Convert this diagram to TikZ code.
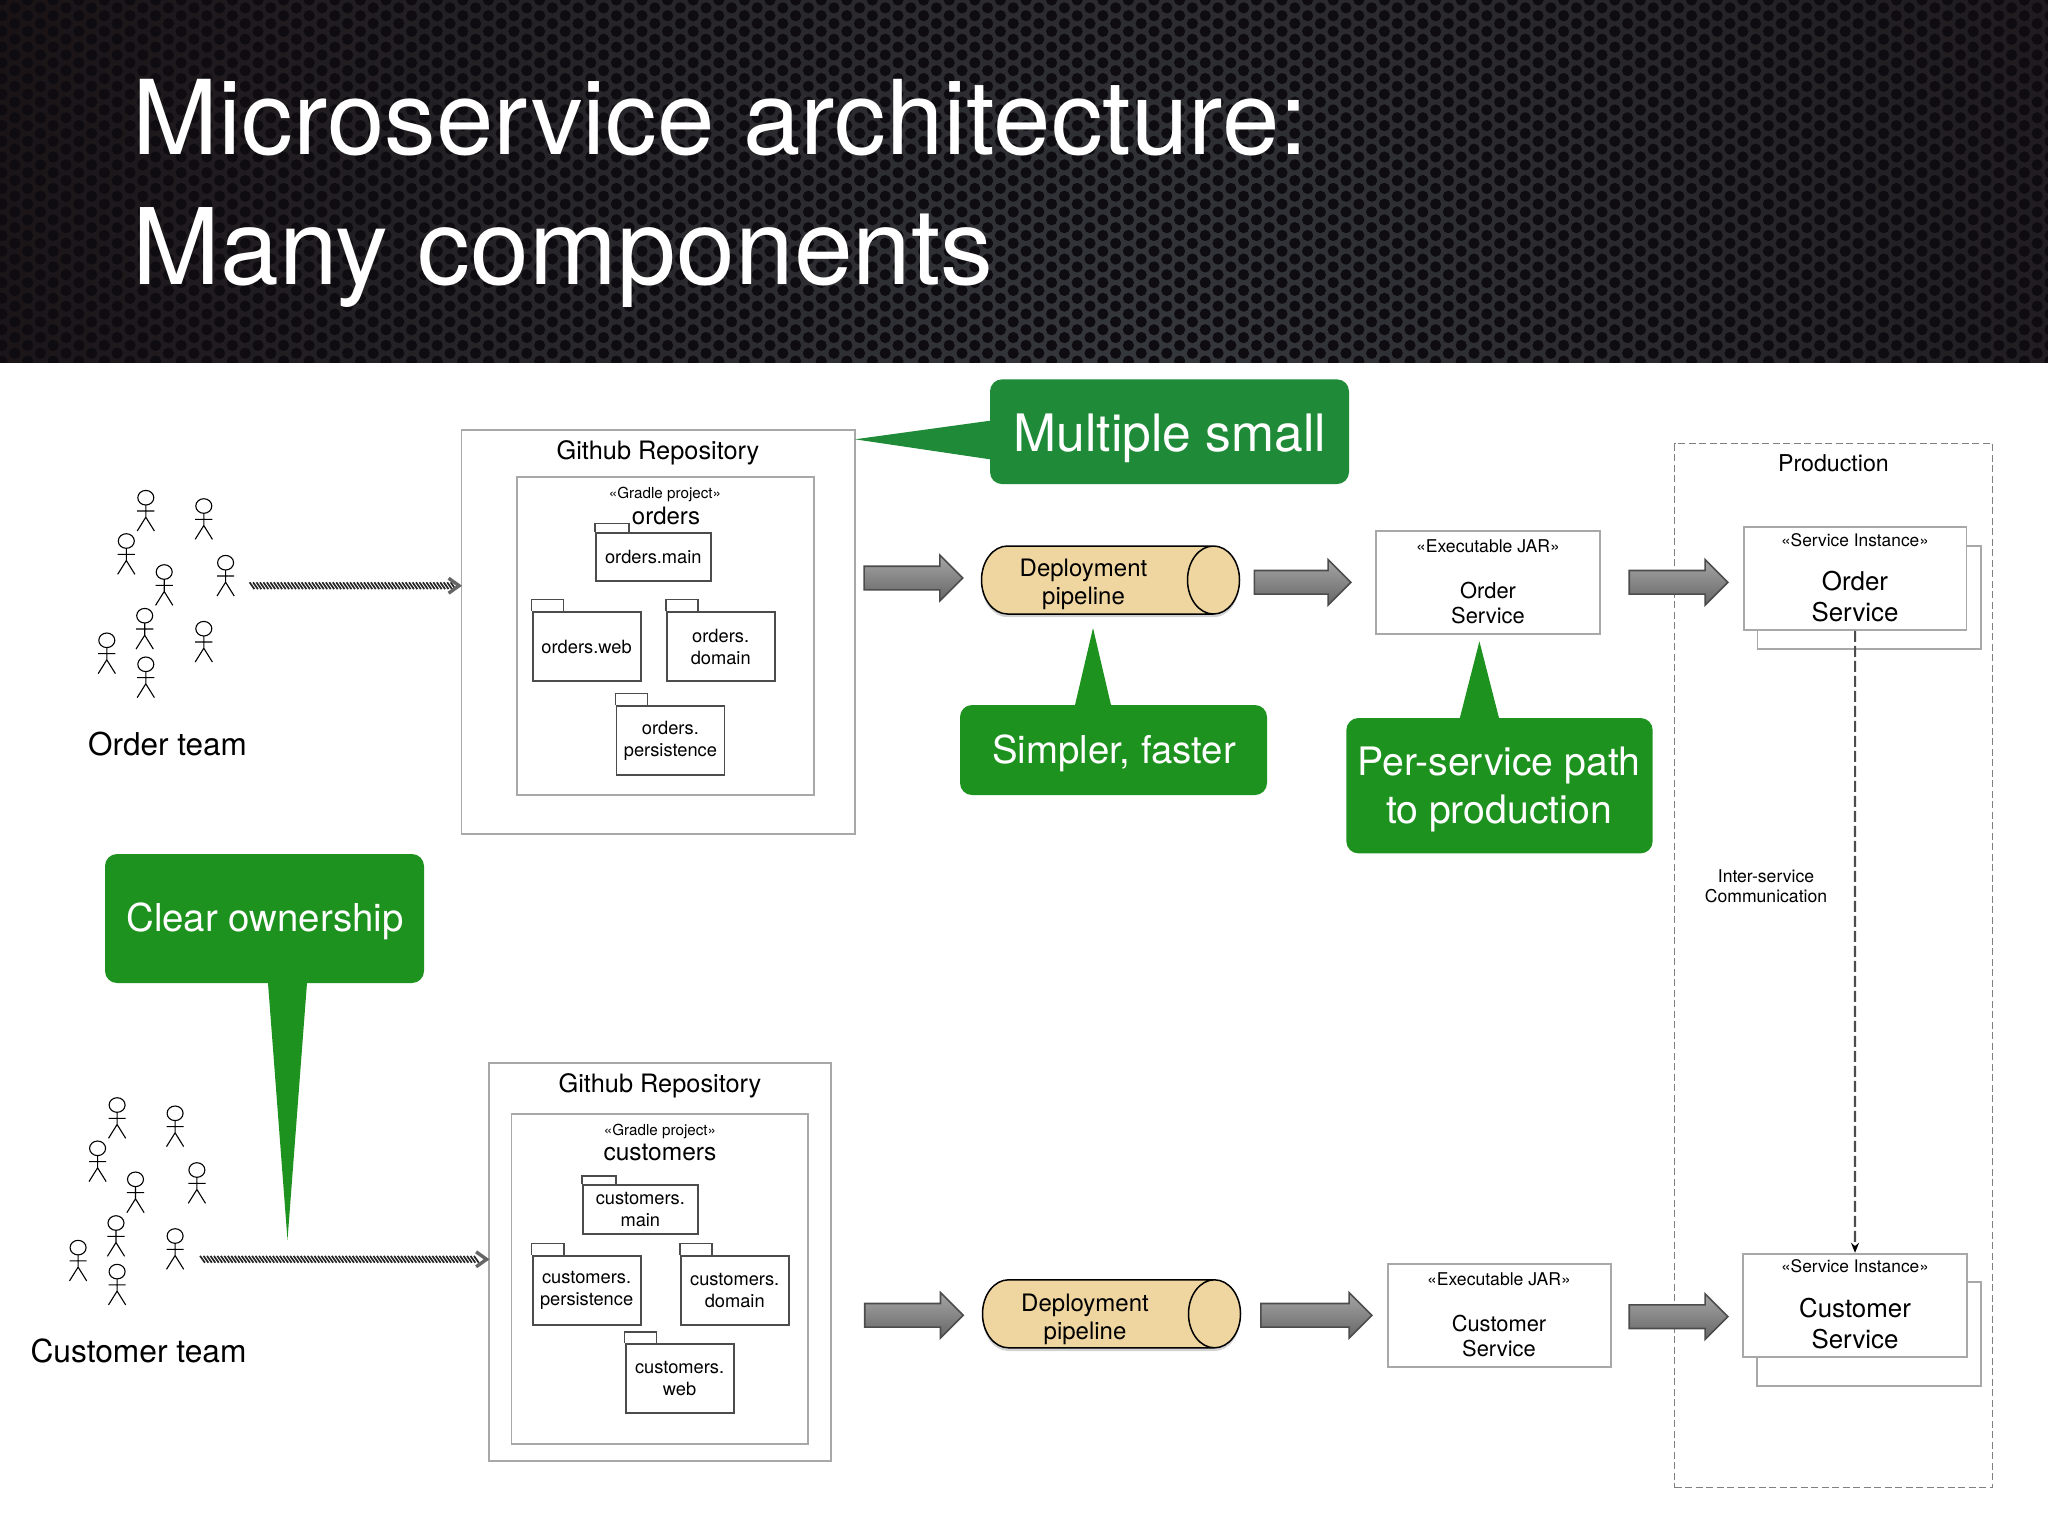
\documentclass[tikz,border=0pt]{standalone}
\usepackage{fontspec}
\setmainfont{TeX Gyre Heros}
\usetikzlibrary{arrows.meta,shapes.geometric,shapes.arrows,shadows,decorations.markings}

\def\pxs{0.375pt}
\definecolor{boxgray}{RGB}{168,168,168}
\definecolor{calloutgreen}{RGB}{30,146,31}
\definecolor{noisygreen}{RGB}{31,139,56}
\definecolor{pipetan}{RGB}{239,213,159}
\definecolor{bandouter}{RGB}{18,10,12}
\definecolor{bandinner}{RGB}{54,57,62}
\definecolor{bandhole}{RGB}{14,12,17}

\tikzset{
  lbl/.style={inner sep=0pt,anchor=base,font=\fontsize{#1}{#1}\selectfont},
  mlbl/.style 2 args={inner sep=0pt,align=center,font=\fontsize{#1}{#2}\selectfont},
  graybox/.style={draw=boxgray,line width=1.8*\pxs,fill=white,inner sep=0pt},
  pkgbox/.style={draw=black!70,line width=1.8*\pxs,fill=white,inner sep=0pt,align=center,
    minimum width=108*\pxs,minimum height=69*\pxs,font=\fontsize{6.85}{8.25}\selectfont},
  pkgtab/.style={draw=black!70,line width=1.4*\pxs},
  blockarrow/.style={single arrow,anchor=tip,draw=black!70,line width=1.6*\pxs,inner xsep=0pt,inner ysep=11*\pxs,
    top color=black!35,bottom color=black!60,single arrow head extend=11*\pxs,
    single arrow tip angle=90,minimum width=44*\pxs},
  hatcharrow/.style={postaction={decorate,decoration={markings,
    mark=between positions 0 and 0.97 step 1.3pt with {\draw[black!85,line width=1.7*\pxs] (-2.4,-3.4) -- (2.4,3.4);},
    mark=at position 1 with {\draw[black!60,line width=3.4*\pxs] (-12,-7.5) -- (-1.5,0) -- (-12,7.5);}}}},
  pipe/.style={cylinder,anchor=shape center,shape border rotate=0,aspect=1,draw=black,line width=1.5*\pxs,fill=pipetan,
    inner sep=0pt,minimum height=258*\pxs,minimum width=68*\pxs,execute at begin node={\rule{0pt}{19.5pt}},
    drop shadow={opacity=.35,shadow xshift=0pt,shadow yshift=-1.2pt}},
  callout/.style={fill=calloutgreen,rounded corners=12*\pxs,inner sep=0pt},
  stickman/.pic={
    \draw[line width=1.1*\pxs] (0,0) ellipse [x radius=8,y radius=7.3];
    \draw[line width=1.1*\pxs] (0,7.3) -- (0,19.5) (-8.6,13.3) -- (8.6,13.3) (-8.6,33.3) -- (0,19.5) -- (8.6,33.3);
  }
}
\newcommand{\pkgflap}[3]{\draw[pkgtab] (#1.north west) -- ++(0,-#3) -- ++(#2,0) -- ++(0,#3);}

\begin{document}
\begin{tikzpicture}[x=0.375pt,y=-0.375pt]
  \useasboundingbox (0,0) rectangle (2048,1536);

  % header band
  \begin{scope}
    \clip (0,0) rectangle (2048,362);
    \shade[inner color=bandinner,outer color=bandouter] (1150,420) circle [radius=1500];
    \foreach \col in {0,...,160}{
      \pgfmathsetmacro{\colx}{\col*12.8+2}
      \pgfmathsetmacro{\coly}{mod(\col,2)*7.85}
      \foreach \row in {0,...,24}
        \fill[bandhole] ({\colx},{\row*15.7+\coly}) circle [radius=5.6];
    }
  \end{scope}
  \node[lbl=38.7,white] (titleone) at (720.5,154) {Microservice architecture:};
  \node[lbl=39.6,white,anchor=base west] (titletwo) at (132,284) {Many components};

  % order team
  \foreach \hx/\hy in {145.8/497.7,203.8/506,126.3/541,164.2/572,225.6/562.7,144.7/615.7,203.8/628.7,106.8/640.3,145.8/664.3}
    \pic at (\hx,\hy) {stickman};
  \node[lbl=11.8] (orderteam) at (167.5,755) {Order team};
  \coordinate (orderout) at (252,585.7);

  % customer team
  \begin{scope}[shift={(-28.7,607.3)}]
    \foreach \hx/\hy in {145.8/497.7,203.8/506,126.3/541,164.2/572,225.6/562.7,144.7/615.7,203.8/628.7,106.8/640.3,145.8/664.3}
      \pic at (\hx,\hy) {stickman};
  \end{scope}
  \node[lbl=11.9] (customerteam) at (138.5,1362) {Customer team};
  \coordinate (customerout) at (202.5,1259.3);

  % order repository
  \node[graybox,minimum width=393.3*\pxs,minimum height=403.7*\pxs] (orderrepo) at (658.15,631.85) {};
  \node[lbl=9.5] (orderrepotitle) at (658,459) {Github Repository};
  \node[graybox,minimum width=296.8*\pxs,minimum height=317.4*\pxs] (orderproj) at (665.6,636) {};
  \node[lbl=5.7] (ordergradle) at (665,498) {«Gradle project»};
  \node[lbl=9] (orderprojname) at (666,524) {orders};
  \node[pkgbox,minimum width=114.8*\pxs,minimum height=48.6*\pxs] (ordersmain) at (653.3,557) {orders.main};
  \pkgflap{ordersmain}{33.8}{8.4}
  \node[pkgbox] (ordersweb) at (586.6,646.5) {orders.web};
  \pkgflap{ordersweb}{31.6}{11.7}
  \node[pkgbox] (ordersdomain) at (720.7,646.5) {orders.\\domain};
  \pkgflap{ordersdomain}{32.1}{11.7}
  \node[pkgbox] (orderspersist) at (670.4,740.8) {orders.\\persistence};
  \pkgflap{orderspersist}{32.2}{11.7}

  % customer repository
  \node[graybox,minimum width=341.7*\pxs,minimum height=398.6*\pxs] (customerrepo) at (659.85,1262) {};
  \node[lbl=9.5] (customerrepotitle) at (660,1092) {Github Repository};
  \node[graybox,minimum width=296.8*\pxs,minimum height=330*\pxs] (customerproj) at (659.9,1279) {};
  \node[lbl=5.7] (customergradle) at (660,1135) {«Gradle project»};
  \node[lbl=9.2] (customerprojname) at (660,1160.7) {customers};
  \node[pkgbox,minimum width=115.3*\pxs,minimum height=49*\pxs] (customersmain) at (640.35,1209.5) {customers.\\main};
  \pkgflap{customersmain}{34.3}{8.3}
  \node[pkgbox] (customerspersist) at (586.6,1290.6) {customers.\\persistence};
  \pkgflap{customerspersist}{32.3}{11.7}
  \node[pkgbox] (customersdomain) at (734.7,1290.6) {customers.\\domain};
  \pkgflap{customersdomain}{32.2}{11.7}
  \node[pkgbox] (customersweb) at (679.6,1378.8) {customers.\\web};
  \pkgflap{customersweb}{31.6}{11.6}

  % team to repository
  \path[hatcharrow] (orderout) -- (orderrepo.west |- orderout);
  \path[hatcharrow] (customerout) -- (customerrepo.west |- customerout);

  % production
  \node[draw=black!50,line width=1.4*\pxs,dash pattern=on 7*\pxs off 3.5*\pxs,inner sep=0pt,
    minimum width=318.2*\pxs,minimum height=1043.8*\pxs] (production) at (1833.6,965.6) {};
  \node[lbl=8.7] (productiontitle) at (1833.4,471) {Production};

  % order pipeline row
  \node[blockarrow,minimum height=98.5*\pxs] (orderarrowa) at (963.8,578) {};
  \node[pipe] (orderpipe) at (1110.5,580) {};
  \node[mlbl={9}{10.5}] (orderpipetext) at (1083.5,584.7) {Deployment\\pipeline};
  \node[blockarrow,minimum height=96.5*\pxs] (orderarrowb) at (1352,582.3) {};
  \node[graybox,minimum width=223.3*\pxs,minimum height=103.3*\pxs] (orderjar) at (1488,582.3) {};
  \node[lbl=6.6] (orderjarstereo) at (1488,552.7) {«Executable JAR»};
  \node[mlbl={8.2}{9.4}] (orderjarname) at (1488,602.6) {Order\\Service};
  \node[blockarrow,minimum height=98.6*\pxs] (orderarrowc) at (1729,582.3) {};
  \node[graybox,minimum width=223.3*\pxs,minimum height=103*\pxs] (orderback) at (1869.1,597.8) {};
  \node[graybox,minimum width=222.8*\pxs,minimum height=103.3*\pxs] (orderinst) at (1855.1,578.3) {};
  \node[lbl=6.5] (orderinststereo) at (1855,546) {«Service Instance»};
  \node[mlbl={9.7}{11.6}] (orderinstname) at (1855,596.2) {Order\\Service};

  % customer pipeline row
  \node[blockarrow,minimum height=98.5*\pxs] (customerarrowa) at (964.4,1315.3) {};
  \node[pipe] (customerpipe) at (1111.5,1313.8) {};
  \node[mlbl={9}{10.5}] (customerpipetext) at (1085,1319) {Deployment\\pipeline};
  \node[blockarrow,minimum height=111*\pxs] (customerarrowb) at (1373,1315.3) {};
  \node[graybox,minimum width=223.2*\pxs,minimum height=103.3*\pxs] (customerjar) at (1499.4,1315.3) {};
  \node[lbl=6.6] (customerjarstereo) at (1499,1285) {«Executable JAR»};
  \node[mlbl={8.2}{9.4}] (customerjarname) at (1499,1336) {Customer\\Service};
  \node[blockarrow,minimum height=98.6*\pxs] (customerarrowc) at (1729,1316.7) {};
  \node[graybox,minimum width=223.7*\pxs,minimum height=103.4*\pxs] (customerback) at (1869.1,1334) {};
  \node[graybox,minimum width=223.4*\pxs,minimum height=103.6*\pxs] (customerinst) at (1855,1305.5) {};
  \node[lbl=6.5] (customerinststereo) at (1855,1272.7) {«Service Instance»};
  \node[mlbl={9.7}{11.6}] (customerinstname) at (1855,1323.5) {Customer\\Service};

  % inter-service link
  \draw[draw=black!70,line width=2.2*\pxs,dash pattern=on 11*\pxs off 4*\pxs,
    -{Stealth[length=10*\pxs,width=8*\pxs,black]}] (orderinst.south) -- (customerinst.north);
  \node[mlbl={6.6}{7.5}] (interservice) at (1766,886) {Inter-service\\Communication};

  % callouts
  \fill[noisygreen] (990,420.7) -- (855,439.3) -- (990,459.3) -- cycle;
  \node[callout,fill=noisygreen,minimum width=359*\pxs,minimum height=104.7*\pxs] (multiple) at (1169.5,431.7) {};
  \node[lbl=19.35,white] (multipletext) at (1170,451.7) {Multiple small};

  \fill[calloutgreen] (1075,705) -- (1093,628) -- (1111,705) -- cycle;
  \node[callout,minimum width=307*\pxs,minimum height=90*\pxs] (simpler) at (1113.5,750) {};
  \node[lbl=14.4,white] (simplertext) at (1114,763) {Simpler, faster};

  \fill[calloutgreen] (1459.8,718) -- (1479.4,641.3) -- (1499,718) -- cycle;
  \node[callout,minimum width=306.3*\pxs,minimum height=135.3*\pxs] (perservice) at (1499.5,785.7) {};
  \node[mlbl={14.7}{18},white] (perservicetext) at (1499,789.5) {Per-service path\\to production};

  \fill[calloutgreen] (268,983) -- (287.5,1240) -- (307,983) -- cycle;
  \node[callout,minimum width=319*\pxs,minimum height=129*\pxs] (ownership) at (264.5,918.5) {};
  \node[lbl=14.4,white] (ownershiptext) at (265,931.5) {Clear ownership};
\end{tikzpicture}
\end{document}
